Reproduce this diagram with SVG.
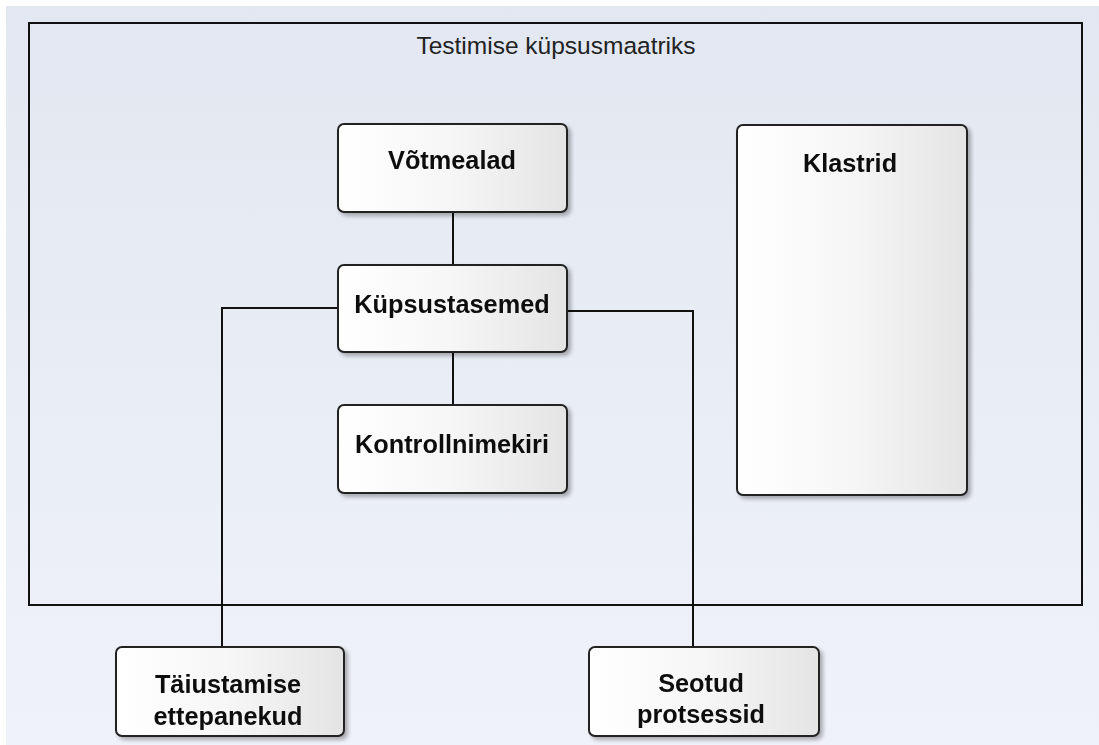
<svg xmlns="http://www.w3.org/2000/svg" width="1099" height="745" viewBox="0 0 1099 745">
  <defs>
    <linearGradient id="bg" x1="0" y1="0" x2="0" y2="1">
      <stop offset="0" stop-color="#e2e7f1"/>
      <stop offset="1" stop-color="#eff2f9"/>
    </linearGradient>
    <linearGradient id="nodefill" x1="0" y1="0" x2="1" y2="0">
      <stop offset="0" stop-color="#ffffff"/>
      <stop offset="0.5" stop-color="#f6f6f6"/>
      <stop offset="1" stop-color="#e4e4e4"/>
    </linearGradient>
    <filter id="shadow" x="-10%" y="-10%" width="130%" height="130%">
      <feGaussianBlur in="SourceAlpha" stdDeviation="2"/>
      <feOffset dx="3" dy="3" result="b"/>
      <feComponentTransfer><feFuncA type="linear" slope="0.3"/></feComponentTransfer>
      <feMerge><feMergeNode/><feMergeNode in="SourceGraphic"/></feMerge>
    </filter>
  </defs>
  <style>
    .node rect { fill: url(#nodefill); stroke: #222; stroke-width: 2; }
    .label { font-family: "Liberation Sans", Arial, sans-serif; font-size: 25.3px; font-weight: bold; fill: #111; text-anchor: middle; }
    .title { font-family: "Liberation Sans", Arial, sans-serif; font-size: 24.5px; fill: #222; text-anchor: middle; }
    .conn { fill: none; stroke: #111; stroke-width: 2; }
  </style>
  <rect x="0" y="0" width="1099" height="745" fill="#ffffff"/>
  <rect x="6" y="6" width="1093" height="739" fill="url(#bg)"/>

  <g id="frame">
    <rect x="29" y="23" width="1053" height="582" fill="none" stroke="#111" stroke-width="2"/>
    <text class="title" x="556" y="54">Testimise küpsusmaatriks</text>
  </g>

  <g id="connectors">
    <line class="conn" x1="453" y1="212" x2="453" y2="265"/>
    <line class="conn" x1="453" y1="352" x2="453" y2="405"/>
    <polyline class="conn" points="338,308 222,308 222,647"/>
    <polyline class="conn" points="567,311 693,311 693,647"/>
  </g>

  <g id="votmealad" class="node" filter="url(#shadow)">
    <rect x="338" y="124" width="229" height="88" rx="6"/>
    <text class="label" x="452" y="169">Võtmealad</text>
  </g>
  <g id="kupsustasemed" class="node" filter="url(#shadow)">
    <rect x="338" y="265" width="229" height="87" rx="6"/>
    <text class="label" x="452" y="313">Küpsustasemed</text>
  </g>
  <g id="kontrollnimekiri" class="node" filter="url(#shadow)">
    <rect x="338" y="405" width="229" height="88" rx="6"/>
    <text class="label" x="452" y="453">Kontrollnimekiri</text>
  </g>
  <g id="klastrid" class="node" filter="url(#shadow)">
    <rect x="737" y="125" width="230" height="370" rx="6"/>
    <text class="label" x="850" y="172">Klastrid</text>
  </g>
  <g id="taiustamise" class="node" filter="url(#shadow)">
    <rect x="116" y="647" width="228" height="89" rx="6"/>
    <text class="label" x="228" y="693">Täiustamise</text>
    <text class="label" x="228" y="725">ettepanekud</text>
  </g>
  <g id="seotud" class="node" filter="url(#shadow)">
    <rect x="589" y="647" width="230" height="89" rx="6"/>
    <text class="label" x="701" y="692">Seotud</text>
    <text class="label" x="701" y="723">protsessid</text>
  </g>
</svg>
